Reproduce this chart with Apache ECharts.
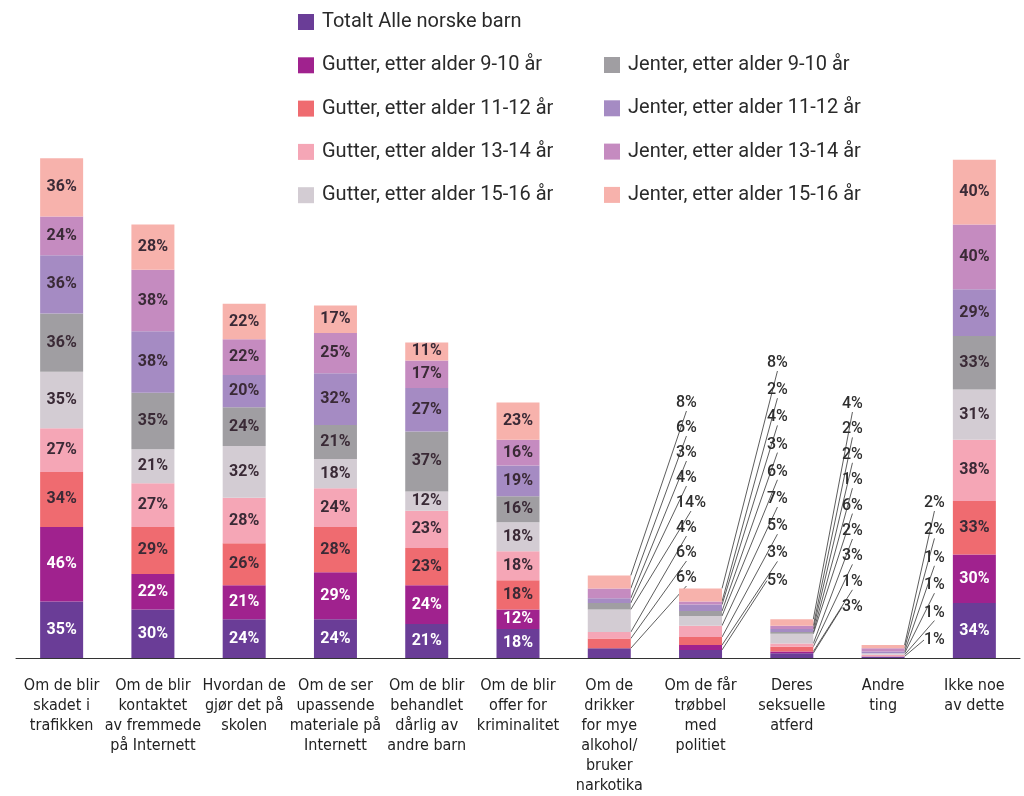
<!DOCTYPE html>
<html><head><meta charset="utf-8">
<script src="https://cdn.jsdelivr.net/npm/echarts@6/dist/echarts.min.js"></script>
<style>html,body{margin:0;padding:0;background:#fff}#chart{width:1024px;height:796px}</style>
</head><body><div id="chart"></div>
<script>
// ---- data ----
const categories = [
  "Om de blir\nskadet i\ntrafikken",
  "Om de blir\nkontaktet\nav fremmede\npå Internett",
  "Hvordan de\ngjør det på\nskolen",
  "Om de ser\nupassende\nmateriale på\nInternett",
  "Om de blir\nbehandlet\ndårlig av\nandre barn",
  "Om de blir\noffer for\nkriminalitet",
  "Om de\ndrikker\nfor mye\nalkohol/\nbruker\nnarkotika",
  "Om de får\ntrøbbel\nmed\npolitiet",
  "Deres\nseksuelle\natferd",
  "Andre\nting",
  "Ikke noe\nav dette"
];
const seriesNames = [
  "Totalt Alle norske barn",
  "Gutter, etter alder 9-10 år",
  "Gutter, etter alder 11-12 år",
  "Gutter, etter alder 13-14 år",
  "Gutter, etter alder 15-16 år",
  "Jenter, etter alder 9-10 år",
  "Jenter, etter alder 11-12 år",
  "Jenter, etter alder 13-14 år",
  "Jenter, etter alder 15-16 år"
];
const totalt     = [35, 30, 24, 24, 21, 18, 6, 5, 3, 1, 34];
const gutter910  = [46, 22, 21, 29, 24, 12, null, 3, 1, null, 30];
const gutter1112 = [34, 29, 26, 28, 23, 18, 6, 5, 3, null, 33];
const gutter1314 = [27, 27, 28, 24, 23, 18, 4, 7, 2, 1, 38];
const gutter1516 = [35, 21, 32, 18, 12, 18, 14, 6, 6, 1, 31];
const jenter910  = [36, 35, 24, 21, 37, 16, 4, 3, 1, null, 33];
const jenter1112 = [36, 38, 20, 32, 27, 19, 3, 4, 2, 1, 29];
const jenter1314 = [24, 38, 22, 25, 17, 16, 6, 2, 2, 2, 40];
const jenter1516 = [36, 28, 22, 17, 11, 23, 8, 8, 4, 2, 40];
const seriesValues = [totalt, gutter910, gutter1112, gutter1314, gutter1516,
                      jenter910, jenter1112, jenter1314, jenter1516];

// ---- style ----
const colors = ['#6a3d97', '#a0228e', '#ef6b70', '#f5a6b6', '#d3ccd3',
                '#a09ea2', '#a58bc3', '#c58bc0', '#f7b2ac'];
const whiteLabel = [true, true, false, false, false, false, false, false, false];
// callout label placement (category index -> pixel layout)
const callouts = {
  6: {x: 676, top: 403, gap: 25},
  7: {x: 767, top: 363, gap: 27.2},
  8: {x: 842, top: 404, gap: 25.4},
  9: {x: 924, top: 503, gap: 27.4}
};
const valueFont = 'Roboto, "DejaVu Sans", sans-serif';
const catFont = '"Liberation Sans Narrow", "DejaVu Sans Condensed", "Roboto", sans-serif';

function rankFromTop(c, s) {
  let r = 0;
  for (let k = s + 1; k < seriesValues.length; k++) if (seriesValues[k][c] != null) r++;
  return r;
}

const series = seriesValues.map((vals, s) => ({
  name: seriesNames[s],
  type: 'bar',
  stack: 'all',
  barWidth: 43,
  itemStyle: {color: colors[s]},
  label: {
    show: true, position: 'inside', formatter: '{c}%',
    fontFamily: valueFont, fontSize: 16, fontWeight: 'bold',
    color: whiteLabel[s] ? '#ffffff' : '#3a2a36'
  },
  data: vals.map((v, c) => {
    if (callouts[c] && v != null) {
      return {
        value: v,
        label: {color: '#2e2e2e', fontWeight: 500, fontSize: 16},
        labelLine: {show: true, length2: 0, lineStyle: {color: '#333', width: 0.8}}
      };
    }
    return v;
  }),
  labelLayout: function (p) {
    const cfg = callouts[p.dataIndex];
    if (!cfg) return {};
    const r = rankFromTop(p.dataIndex, s);
    return {x: cfg.x, y: cfg.top + r * cfg.gap, align: 'left', verticalAlign: 'middle'};
  }
}));

const legendText = {fontFamily: valueFont, fontSize: 20, color: '#2a2a2a', padding: [0, 0, 0, 3]};
const chart = echarts.init(document.getElementById('chart'), null, {renderer: 'canvas'});
chart.setOption({
  animation: false,
  backgroundColor: '#ffffff',
  legend: [
    {data: seriesNames.slice(0, 5), orient: 'vertical', left: 293, top: 7, itemGap: 23.3,
     itemWidth: 16, itemHeight: 16, icon: 'rect', selectedMode: false, textStyle: legendText},
    {data: seriesNames.slice(5), orient: 'vertical', left: 599, top: 50, itemGap: 23.3,
     itemWidth: 16, itemHeight: 16, icon: 'rect', selectedMode: false, textStyle: legendText}
  ],
  grid: {left: 16, right: 4, top: 11, bottom: 138, containLabel: false},
  xAxis: {
    type: 'category', data: categories,
    axisLine: {lineStyle: {color: '#333', width: 1}},
    axisTick: {show: false},
    axisLabel: {interval: 0, fontFamily: catFont, fontSize: 16, lineHeight: 20,
                color: '#222', margin: 18, verticalAlign: 'top'}
  },
  yAxis: {type: 'value', min: 0, max: 400, show: false, splitLine: {show: false}},
  series: series
});
</script></body></html>
